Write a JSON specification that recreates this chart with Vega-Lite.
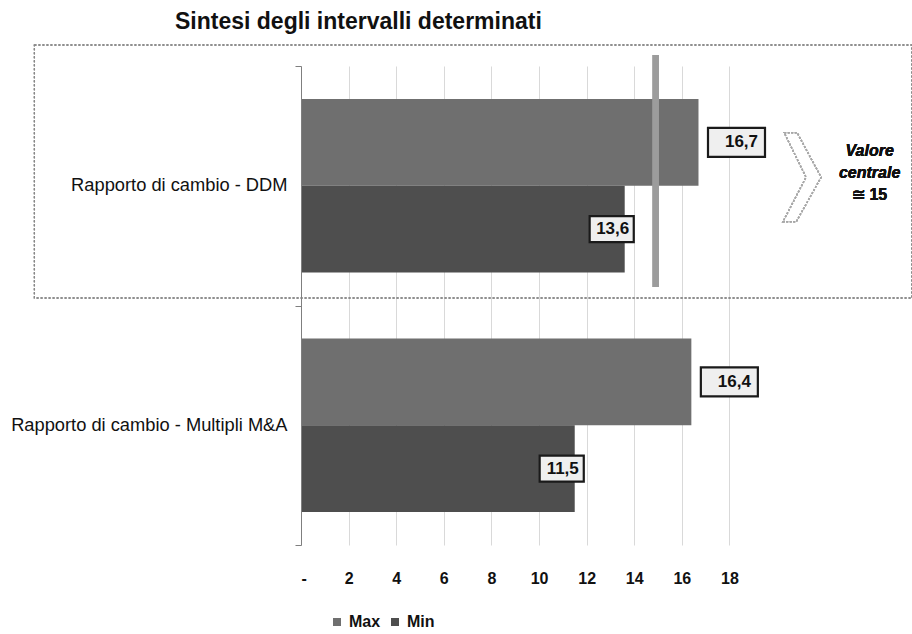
{
  "$schema": "https://vega.github.io/schema/vega-lite/v6.json",
  "autosize": {"type": "none"},
  "padding": {"left": 301, "top": 66, "right": 0, "bottom": 89},
  "width": 611,
  "height": 479,
  "background": "white",
  "config": {"view": {"stroke": null}, "font": "Liberation Sans"},
  "title": {
    "text": "Sintesi degli intervalli determinati",
    "anchor": "start",
    "frame": "group",
    "dx": -126,
    "offset": 10,
    "fontSize": 23,
    "fontWeight": "bold",
    "color": "#111"
  },
  "data": {
    "values": [
      {"cat": "Rapporto di cambio - DDM", "series": "Max", "value": 16.7, "label": "16,7"},
      {"cat": "Rapporto di cambio - DDM", "series": "Min", "value": 13.6, "label": "13,6"},
      {"cat": "Rapporto di cambio - Multipli M&A", "series": "Max", "value": 16.4, "label": "16,4"},
      {"cat": "Rapporto di cambio - Multipli M&A", "series": "Min", "value": 11.5, "label": "11,5"}
    ]
  },
  "layer": [
    {
      "mark": {"type": "rect", "fill": null, "stroke": "#888", "strokeWidth": 1.2, "strokeDash": [2, 2], "yOffset": -21, "y2Offset": -7.5},
      "encoding": {
        "x": {"datum": -11.2},
        "x2": {"datum": 25.67},
        "y": {"datum": "Rapporto di cambio - DDM", "bandPosition": 0},
        "y2": {"datum": "Rapporto di cambio - DDM", "bandPosition": 1}
      }
    },
    {
      "mark": {"type": "bar"},
      "encoding": {
        "x": {
          "field": "value", "type": "quantitative",
          "scale": {"domain": [0, 25.67], "nice": false, "zero": true},
          "axis": {
            "values": [0, 2, 4, 6, 8, 10, 12, 14, 16, 18],
            "labelExpr": "datum.value == 0 ? '-' : datum.label",
            "title": null, "domain": false, "ticks": false,
            "grid": true, "gridColor": "#d9d9d9", "gridWidth": 1,
            "labelFontSize": 16, "labelFontWeight": "bold", "labelColor": "#111",
            "labelPadding": 25
          }
        },
        "y": {
          "field": "cat", "type": "nominal",
          "scale": {"domain": ["Rapporto di cambio - DDM", "Rapporto di cambio - Multipli M&A"], "paddingInner": 0, "paddingOuter": 0},
          "axis": {
            "title": null, "domainColor": "#7f7f7f", "tickColor": "#7f7f7f", "tickSize": 6,
            "tickBand": "extent", "labelFontSize": 18.3, "labelColor": "#111", "labelPadding": 8,
            "labelLimit": 400, "grid": false
          }
        },
        "yOffset": {
          "field": "series", "type": "nominal",
          "scale": {"domain": ["Max", "Min"], "paddingInner": 0, "paddingOuter": 0.38}
        },
        "color": {
          "field": "series", "type": "nominal",
          "scale": {"domain": ["Max", "Min"], "range": ["#6f6f6f", "#4e4e4e"]},
          "legend": {
            "title": null, "orient": "none", "direction": "horizontal",
            "legendX": 28, "legendY": 548, "symbolType": "square", "symbolSize": 64,
            "labelFontSize": 16, "labelFontWeight": "bold", "labelColor": "#111", "columnPadding": 6, "labelOffset": 4
          }
        }
      }
    },
    {
      "mark": {"type": "rule", "color": "#9c9c9c", "strokeWidth": 6, "yOffset": -11, "y2Offset": -18.5},
      "encoding": {
        "x": {"datum": 14.9},
        "y": {"datum": "Rapporto di cambio - DDM", "bandPosition": 0},
        "y2": {"datum": "Rapporto di cambio - DDM", "bandPosition": 1}
      }
    },
    {
      "transform": [{"filter": "datum.series == 'Max'"}],
      "mark": {"type": "point", "shape": "M-1.9,-0.97H1.9V0.97H-1.9Z", "size": 900, "filled": true, "fill": "#efefef", "stroke": "#1a1a1a", "strokeWidth": 2.2, "opacity": 1, "xOffset": 38},
      "encoding": {
        "x": {"field": "value", "type": "quantitative"},
        "y": {"field": "cat", "type": "nominal"},
        "yOffset": {"field": "series", "type": "nominal"}
      }
    },
    {
      "transform": [{"filter": "datum.series == 'Min'"}],
      "mark": {"type": "point", "shape": "M-1.47,-0.87H1.47V0.87H-1.47Z", "size": 900, "filled": true, "fill": "#efefef", "stroke": "#1a1a1a", "strokeWidth": 2.2, "opacity": 1, "xOffset": -13},
      "encoding": {
        "x": {"field": "value", "type": "quantitative"},
        "y": {"field": "cat", "type": "nominal"},
        "yOffset": {"field": "series", "type": "nominal"}
      }
    },
    {
      "transform": [{"filter": "datum.series == 'Max'"}],
      "mark": {"type": "text", "fontSize": 17, "fontWeight": "bold", "color": "#111", "align": "center", "baseline": "middle", "dx": 43},
      "encoding": {
        "x": {"field": "value", "type": "quantitative"},
        "y": {"field": "cat", "type": "nominal"},
        "yOffset": {"field": "series", "type": "nominal"},
        "text": {"field": "label"}
      }
    },
    {
      "transform": [{"filter": "datum.series == 'Min'"}],
      "mark": {"type": "text", "fontSize": 17, "fontWeight": "bold", "color": "#111", "align": "center", "baseline": "middle", "dx": -12},
      "encoding": {
        "x": {"field": "value", "type": "quantitative"},
        "y": {"field": "cat", "type": "nominal"},
        "yOffset": {"field": "series", "type": "nominal"},
        "text": {"field": "label"}
      }
    },
    {
      "mark": {"type": "point", "shape": "M-0.4,-1L-0.11,-1L0.43,0L-0.13,1L-0.43,1L0.09,0Z", "size": 7921, "filled": false, "stroke": "#a8a8a8", "strokeWidth": 1.5, "strokeDash": [2, 1.5], "opacity": 1, "yOffset": -8.5},
      "encoding": {
        "x": {"datum": 21.05},
        "y": {"datum": "Rapporto di cambio - DDM"}
      }
    },
    {
      "mark": {"type": "text", "fontSize": 16, "fontWeight": "bold", "fontStyle": "italic", "color": "#111", "align": "center", "baseline": "middle", "lineHeight": 22, "yOffset": -34.5},
      "encoding": {
        "x": {"datum": 23.89},
        "y": {"datum": "Rapporto di cambio - DDM"},
        "text": {"value": ["Valore", "centrale"]}
      }
    },
    {
      "mark": {"type": "text", "fontSize": 16, "fontWeight": "bold", "color": "#111", "align": "center", "baseline": "middle", "yOffset": 9.5},
      "encoding": {
        "x": {"datum": 23.89},
        "y": {"datum": "Rapporto di cambio - DDM"},
        "text": {"value": "≅ 15"}
      }
    }
  ]
}
